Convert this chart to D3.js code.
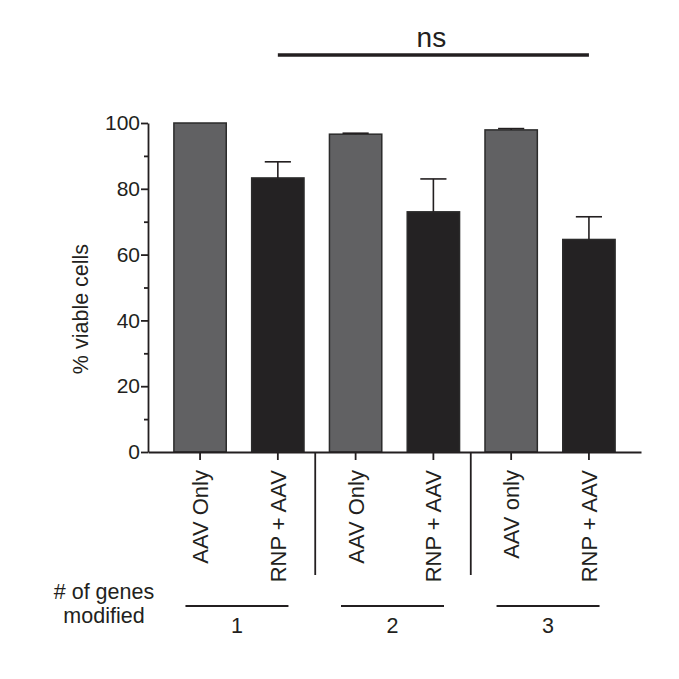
<!DOCTYPE html>
<html>
<head>
<meta charset="utf-8">
<script src="https://cdn.jsdelivr.net/npm/d3@7"></script>
<style>
  body { margin: 0; background: #fff; }
  text { font-family: "Liberation Sans", Arial, sans-serif; fill: #231f20; }
</style>
</head>
<body>
<div id="chart"></div>
<script>
// --- Data ---
const categories = ["AAV Only", "RNP + AAV", "AAV Only", "RNP + AAV", "AAV only", "RNP + AAV"];
const means = [100, 83.3, 96.6, 73.0, 97.9, 64.6];
const sems = [0, 4.9, 0.3, 10.0, 0.4, 6.9];
const treatment = ["aav", "rnp", "aav", "rnp", "aav", "rnp"];
const groupLabels = ["1", "2", "3"];
const yTicks = [0, 20, 40, 60, 80, 100];
const yMinor = [10, 30, 50, 70, 90];

const W = 679, H = 679;
const ink = "#231f20";
const fills = { aav: "#616163", rnp: "#242223" };

const svg = d3.select("#chart").append("svg")
  .attr("width", W).attr("height", H);

const idx = d3.range(categories.length);

const x = d3.scaleBand()
  .domain(idx)
  .range([148, 641])
  .paddingInner(0.327)
  .paddingOuter(0.333);

const y = d3.scaleLinear().domain([0, 100]).range([452, 123]);

const cx = i => x(i) + x.bandwidth() / 2;

// --- Bars ---
svg.append("g").selectAll("rect").data(idx).join("rect")
  .attr("x", i => x(i))
  .attr("y", i => y(means[i]))
  .attr("width", x.bandwidth())
  .attr("height", i => y(0) - y(means[i]))
  .attr("fill", i => fills[treatment[i]])
  .attr("stroke", "#2b2b2b")
  .attr("stroke-width", 1.5);

// --- Error bars (upper only) ---
const errG = svg.append("g").attr("stroke", ink).attr("stroke-width", 1.6);
const withErr = idx.filter(i => sems[i] > 0);
errG.selectAll("line.v").data(withErr).join("line")
  .attr("class", "v")
  .attr("x1", cx).attr("x2", cx)
  .attr("y1", i => y(means[i])).attr("y2", i => y(means[i] + sems[i]));
errG.selectAll("line.cap").data(withErr).join("line")
  .attr("class", "cap")
  .attr("x1", i => cx(i) - x.bandwidth() / 4).attr("x2", i => cx(i) + x.bandwidth() / 4)
  .attr("y1", i => y(means[i] + sems[i])).attr("y2", i => y(means[i] + sems[i]));

// --- Y axis ---
const yAxis = svg.append("g")
  .attr("transform", `translate(${x.range()[0]},0)`)
  .call(d3.axisLeft(y).tickValues(yTicks).tickSize(7).tickSizeOuter(0).tickPadding(1));
svg.append("g")
  .attr("transform", `translate(${x.range()[0]},0)`)
  .call(d3.axisLeft(y).tickValues(yMinor).tickSize(4).tickFormat(""))
  .call(g => g.select(".domain").remove());
svg.selectAll(".tick line, .domain").attr("stroke", ink).attr("stroke-width", 1.8);
yAxis.selectAll("text").attr("font-size", 21).style("font-family", "Liberation Sans, Arial, sans-serif").attr("fill", ink);

svg.append("text")
  .attr("transform", `translate(88,309) rotate(-90)`)
  .attr("text-anchor", "middle")
  .attr("font-size", 21.5)
  .text("% viable cells");

// --- X axis ---
const xAxis = svg.append("g")
  .attr("transform", `translate(0,${y(0)})`)
  .call(d3.axisBottom(x).tickSize(8).tickSizeOuter(0).tickFormat(i => categories[i]));
xAxis.selectAll("line, path").attr("stroke", ink).attr("stroke-width", 1.8);
xAxis.selectAll("text")
  .attr("transform", "rotate(-90)")
  .attr("x", -18).attr("y", 0).attr("dy", "0.36em")
  .attr("text-anchor", "end")
  .attr("font-size", 22)
  .style("font-family", "Liberation Sans, Arial, sans-serif")
  .attr("fill", ink);

// --- Group separators ---
const half = x.step() * x.paddingInner() / 2;
svg.append("g").selectAll("line").data([2, 4]).join("line")
  .attr("x1", i => x(i) - half - 1.5).attr("x2", i => x(i) - half - 1.5)
  .attr("y1", y(0)).attr("y2", 575)
  .attr("stroke", ink).attr("stroke-width", 1.8);

// --- Group underlines and numbers ---
const gCenter = g => (cx(g * 2) + cx(g * 2 + 1)) / 2 - 2;
const grp = svg.append("g");
grp.selectAll("line").data(groupLabels).join("line")
  .attr("x1", (d, g) => gCenter(g) - 51.5).attr("x2", (d, g) => gCenter(g) + 51.5)
  .attr("y1", 606).attr("y2", 606)
  .attr("stroke", ink).attr("stroke-width", 2);
grp.selectAll("text").data(groupLabels).join("text")
  .attr("x", (d, g) => gCenter(g)).attr("y", 633)
  .attr("text-anchor", "middle").attr("font-size", 21.5)
  .text(d => d);

svg.append("text")
  .attr("x", 104).attr("y", 599)
  .attr("text-anchor", "middle").attr("font-size", 21.5)
  .text("# of genes");
svg.append("text")
  .attr("x", 104).attr("y", 623)
  .attr("text-anchor", "middle").attr("font-size", 21.5)
  .text("modified");

// --- Significance bracket ---
svg.append("line")
  .attr("x1", cx(1)).attr("x2", cx(5))
  .attr("y1", 55).attr("y2", 55)
  .attr("stroke", ink).attr("stroke-width", 3.6);
svg.append("text")
  .attr("x", (cx(1) + cx(5)) / 2 - 2).attr("y", 47)
  .attr("text-anchor", "middle").attr("font-size", 28)
  .text("ns");
</script>
</body>
</html>
